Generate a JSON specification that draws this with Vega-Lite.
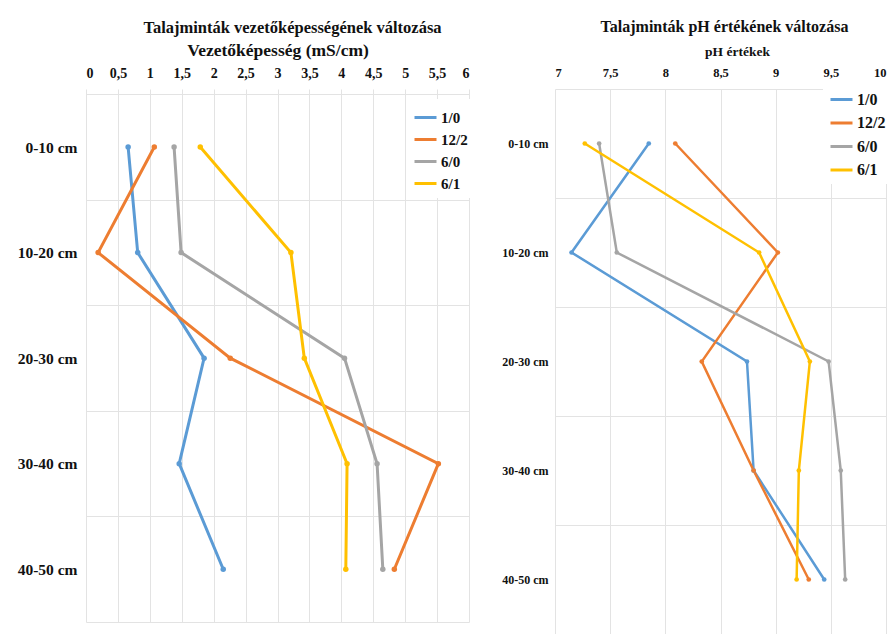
{
  "$schema": "https://vega.github.io/schema/vega-lite/v6.json",
  "background": "white",
  "padding": {"left": 17, "top": 18, "right": 0, "bottom": 0},
  "spacing": 27,
  "datasets": {
    "ec": [
      {"depth": "0-10 cm", "series": "1/0", "value": 0.66},
      {"depth": "10-20 cm", "series": "1/0", "value": 0.81},
      {"depth": "20-30 cm", "series": "1/0", "value": 1.85},
      {"depth": "30-40 cm", "series": "1/0", "value": 1.46},
      {"depth": "40-50 cm", "series": "1/0", "value": 2.15},
      {"depth": "0-10 cm", "series": "12/2", "value": 1.07},
      {"depth": "10-20 cm", "series": "12/2", "value": 0.19},
      {"depth": "20-30 cm", "series": "12/2", "value": 2.26},
      {"depth": "30-40 cm", "series": "12/2", "value": 5.52},
      {"depth": "40-50 cm", "series": "12/2", "value": 4.83},
      {"depth": "0-10 cm", "series": "6/0", "value": 1.38},
      {"depth": "10-20 cm", "series": "6/0", "value": 1.49},
      {"depth": "20-30 cm", "series": "6/0", "value": 4.05},
      {"depth": "30-40 cm", "series": "6/0", "value": 4.56},
      {"depth": "40-50 cm", "series": "6/0", "value": 4.65},
      {"depth": "0-10 cm", "series": "6/1", "value": 1.79},
      {"depth": "10-20 cm", "series": "6/1", "value": 3.21},
      {"depth": "20-30 cm", "series": "6/1", "value": 3.42},
      {"depth": "30-40 cm", "series": "6/1", "value": 4.09},
      {"depth": "40-50 cm", "series": "6/1", "value": 4.07}
    ],
    "ph": [
      {"depth": "0-10 cm", "series": "1/0", "value": 7.85},
      {"depth": "10-20 cm", "series": "1/0", "value": 7.15},
      {"depth": "20-30 cm", "series": "1/0", "value": 8.74},
      {"depth": "30-40 cm", "series": "1/0", "value": 8.8},
      {"depth": "40-50 cm", "series": "1/0", "value": 9.44},
      {"depth": "0-10 cm", "series": "12/2", "value": 8.09},
      {"depth": "10-20 cm", "series": "12/2", "value": 9.02},
      {"depth": "20-30 cm", "series": "12/2", "value": 8.33},
      {"depth": "30-40 cm", "series": "12/2", "value": 8.8},
      {"depth": "40-50 cm", "series": "12/2", "value": 9.3},
      {"depth": "0-10 cm", "series": "6/0", "value": 7.4},
      {"depth": "10-20 cm", "series": "6/0", "value": 7.56},
      {"depth": "20-30 cm", "series": "6/0", "value": 9.48},
      {"depth": "30-40 cm", "series": "6/0", "value": 9.59},
      {"depth": "40-50 cm", "series": "6/0", "value": 9.63},
      {"depth": "0-10 cm", "series": "6/1", "value": 7.27},
      {"depth": "10-20 cm", "series": "6/1", "value": 8.85},
      {"depth": "20-30 cm", "series": "6/1", "value": 9.31},
      {"depth": "30-40 cm", "series": "6/1", "value": 9.21},
      {"depth": "40-50 cm", "series": "6/1", "value": 9.19}
    ]
  },
  "resolve": {"scale": {"color": "independent"}, "legend": {"color": "independent"}},
  "hconcat": [
    {
      "width": 383,
      "height": 533,
      "data": {"name": "ec"},
      "title": {"text": "Talajminták vezetőképességének változása", "font": "Liberation Serif", "fontSize": 16.5, "fontWeight": "bold", "color": "#111", "anchor": "middle", "frame": "group", "dx": 15, "offset": 5},
      "mark": {"type": "line", "strokeWidth": 3, "interpolate": "linear", "point": {"filled": true, "size": 30}},
      "encoding": {
        "x": {"field": "value", "type": "quantitative", "scale": {"domain": [0, 6], "nice": false, "zero": false},
          "axis": {"orient": "top", "title": "Vezetőképesség (mS/cm)", "values": [0, 0.5, 1, 1.5, 2, 2.5, 3, 3.5, 4, 4.5, 5, 5.5, 6],
            "labelExpr": "replace(datum.value + '', '.', ',')", "labelFont": "Liberation Serif", "labelFontSize": 14, "labelFontWeight": "bold", "labelColor": "#111",
            "labelPadding": 9, "ticks": false, "tickSize": 0, "domain": false, "grid": true, "gridColor": "#E3E3E3", "gridWidth": 1,
            "titleFont": "Liberation Serif", "titleFontSize": 17.5, "titleFontWeight": "bold", "titleColor": "#111", "titlePadding": 6.5}},
        "y": {"field": "depth", "type": "nominal", "scale": {"type": "band", "domain": ["0-10 cm", "10-20 cm", "20-30 cm", "30-40 cm", "40-50 cm"], "paddingInner": 0, "paddingOuter": 0.025, "align": 1},
          "axis": {"title": null, "labelFont": "Liberation Serif", "labelFontSize": 15.5, "labelFontWeight": "bold", "labelColor": "#111", "labelPadding": 9,
            "ticks": false, "tickSize": 0, "domain": false, "grid": true, "tickBand": "extent", "gridColor": "#E3E3E3", "gridWidth": 1}},
        "color": {"field": "series", "type": "nominal", "scale": {"domain": ["1/0", "12/2", "6/0", "6/1"], "range": ["#5B9BD5", "#ED7D31", "#A5A5A5", "#FFC000"]},
          "legend": {"title": null, "orient": "none", "legendX": 321, "legendY": 10, "fillColor": "white", "padding": 6, "symbolType": "stroke", "symbolSize": 484, "symbolStrokeWidth": 3, "rowPadding": 1,
            "labelFont": "Liberation Serif", "labelFontSize": 15, "labelFontWeight": "bold", "labelColor": "#111", "labelOffset": 3}},
        "order": {"field": "depth", "type": "ordinal"}
      }
    },
    {
      "width": 331,
      "height": 545,
      "data": {"name": "ph"},
      "title": {"text": "Talajminták pH értékének változása", "font": "Liberation Serif", "fontSize": 16, "fontWeight": "bold", "color": "#111", "anchor": "middle", "frame": "group", "dx": 4, "offset": 10},
      "mark": {"type": "line", "strokeWidth": 2.5, "interpolate": "linear", "point": {"filled": true, "size": 22}},
      "encoding": {
        "x": {"field": "value", "type": "quantitative", "scale": {"domain": [7, 10], "nice": false, "zero": false},
          "axis": {"orient": "top", "title": "pH értékek", "titleX": 182, "values": [7, 7.5, 8, 8.5, 9, 9.5, 10],
            "labelExpr": "replace(datum.value + '', '.', ',')", "labelFont": "Liberation Serif", "labelFontSize": 12.5, "labelFontWeight": "bold", "labelColor": "#111",
            "labelPadding": 9.5, "ticks": false, "tickSize": 0, "domain": false, "grid": true, "gridColor": "#E3E3E3", "gridWidth": 1,
            "titleFont": "Liberation Serif", "titleFontSize": 13.5, "titleFontWeight": "bold", "titleColor": "#111", "titlePadding": 8}},
        "y": {"field": "depth", "type": "nominal", "scale": {"type": "band", "domain": ["0-10 cm", "10-20 cm", "20-30 cm", "30-40 cm", "40-50 cm"], "paddingInner": 0, "paddingOuter": 0},
          "axis": {"title": null, "labelFont": "Liberation Serif", "labelFontSize": 12, "labelFontWeight": "bold", "labelColor": "#111", "labelPadding": 7,
            "ticks": false, "tickSize": 0, "domain": false, "grid": true, "tickBand": "extent", "gridColor": "#E3E3E3", "gridWidth": 1}},
        "color": {"field": "series", "type": "nominal", "scale": {"domain": ["1/0", "12/2", "6/0", "6/1"], "range": ["#5B9BD5", "#ED7D31", "#A5A5A5", "#FFC000"]},
          "legend": {"title": null, "orient": "none", "legendX": 268, "legendY": -8, "fillColor": "white", "padding": 6, "symbolType": "stroke", "symbolSize": 484, "symbolStrokeWidth": 3, "rowPadding": 2.5,
            "labelFont": "Liberation Serif", "labelFontSize": 16, "labelFontWeight": "bold", "labelColor": "#111", "labelOffset": 3}},
        "order": {"field": "depth", "type": "ordinal"}
      }
    }
  ],
  "config": {"view": {"stroke": null}}
}
